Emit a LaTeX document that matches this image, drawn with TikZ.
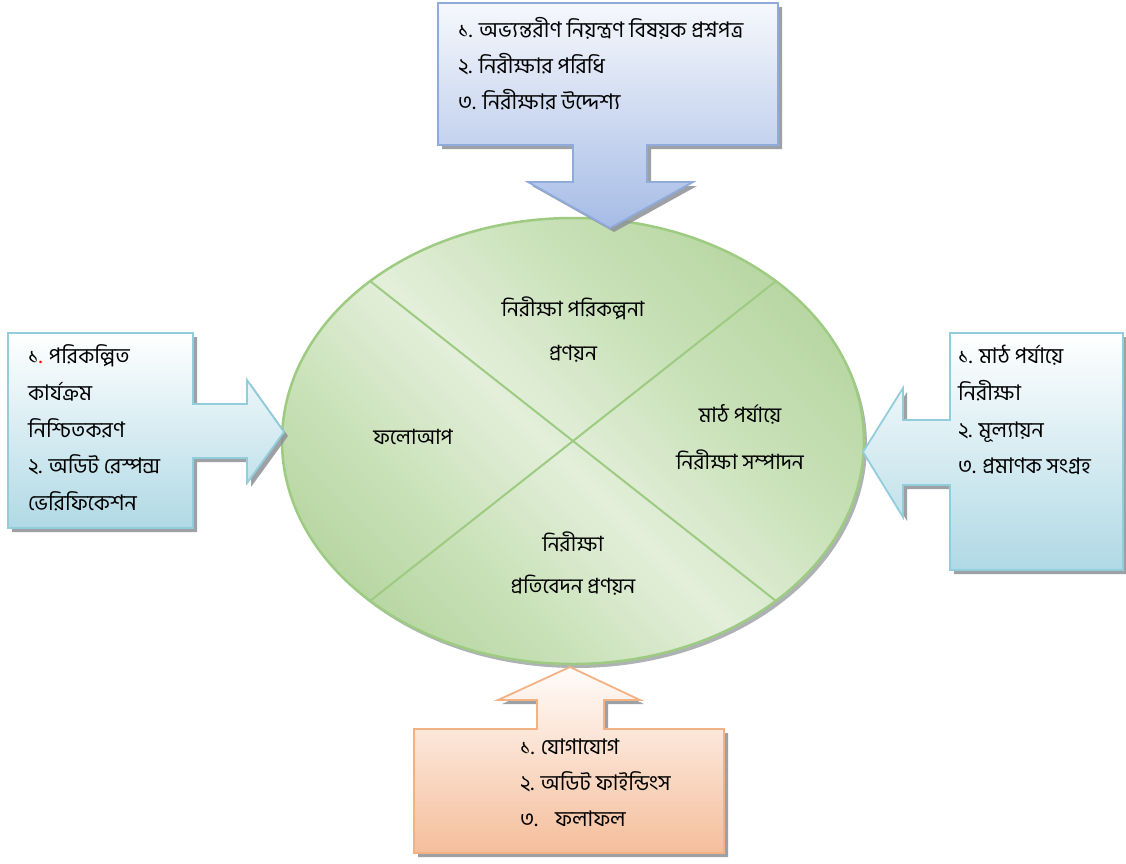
\documentclass[tikz,border=0pt]{standalone}
\usepackage{fontspec}
\newfontfamily\bn[Script=Bengali]{Hind Siliguri}
\usetikzlibrary{shadows,calc}
\definecolor{gE}{HTML}{B8D7A3}
\definecolor{gD}{HTML}{C9E1B8}
\definecolor{gL}{HTML}{E3EFDA}
\definecolor{gB}{HTML}{9ECB82}
\definecolor{bT}{HTML}{F6F8FC}
\definecolor{bB}{HTML}{A6BCE6}
\definecolor{bBr}{HTML}{8FAADC}
\definecolor{cT}{HTML}{FFFFFF}
\definecolor{cB}{HTML}{B0D9E5}
\definecolor{cBr}{HTML}{92CDDC}
\definecolor{pT}{HTML}{FFFCFA}
\definecolor{pB}{HTML}{F5BE9B}
\definecolor{pBr}{HTML}{F4B183}
\definecolor{shc}{HTML}{8C9196}
\pgfdeclarehorizontalshading{ellshade}{100bp}{color(0bp)=(gE); color(25bp)=(gE); color(35bp)=(gD); color(48bp)=(gL); color(62bp)=(gD); color(75bp)=(gE); color(100bp)=(gE)}
\begin{document}
\begin{tikzpicture}[x=1pt,y=-1pt,
  shd/.style={drop shadow={shadow xshift=4pt, shadow yshift=-4pt, fill=shc, opacity=0.85}},
  ellshd/.style={drop shadow={shadow xshift=3pt, shadow yshift=-4pt, fill=shc, opacity=0.7}},
  lbl/.style={font=\bn\fontsize{21.5}{36.5}\selectfont, inner sep=0pt, align=left, anchor=west, text=black},
  ctr/.style={font=\bn\fontsize{21}{44}\selectfont, inner sep=0pt, align=center, text=black},
  divline/.style={draw=gB, line width=2pt},
  topbox/.style={shd, top color=bT, bottom color=bB, draw=bBr, line width=1.8pt, line join=miter},
  sidebox/.style={shd, top color=cT, bottom color=cB, draw=cBr, line width=1.8pt, line join=miter},
  botbox/.style={shd, top color=pT, bottom color=pB, draw=pBr, line width=1.8pt, line join=miter}
]
\useasboundingbox (0,0) rectangle (1126,863);

% central ellipse
\coordinate (c) at (573,441);
\path[ellshd, shading=ellshade, shading angle=45] (c) ellipse [x radius=291pt, y radius=223pt];
\draw[gB, line width=2.5pt] (c) ellipse [x radius=291pt, y radius=223pt];
\coordinate (ul) at ($(c)+(134.2:291 and 223)$);
\coordinate (ur) at ($(c)+(45.8:291 and 223)$);
\coordinate (ll) at ($(c)+(225.8:291 and 223)$);
\coordinate (lr) at ($(c)+(314.2:291 and 223)$);
\draw[divline] (ul) -- (lr);
\draw[divline] (ur) -- (ll);

\node[ctr] (q1) at (573,330) {নিরীক্ষা পরিকল্পনা\\প্রণয়ন};
\node[ctr] (q2) at (413,437) {ফলোআপ};
\node[ctr, font=\bn\fontsize{21}{47}\selectfont] (q3) at (740,437) {মাঠ পর্যায়ে\\নিরীক্ষা সম্পাদন};
\node[ctr, font=\bn\fontsize{21}{42}\selectfont] (q4) at (573,564) {নিরীক্ষা\\প্রতিবেদন প্রণয়ন};

% top callout (down arrow)
\path[topbox] (438,3) -- (778,3) -- (778,145) -- (647,145) -- (647,182) -- (693,182) -- (610,228)
  -- (528,182) -- (573,182) -- (573,145) -- (438,145) -- cycle;
\node[lbl, font=\bn\fontsize{21.5}{36}\selectfont] (ttop) at (458,64) {১. অভ্যন্তরীণ নিয়ন্ত্রণ বিষয়ক প্রশ্নপত্র\\২. নিরীক্ষার পরিধি\\৩. নিরীক্ষার উদ্দেশ্য};

% left callout (right arrow)
\path[sidebox] (8,333) -- (193,333) -- (193,404) -- (247,404) -- (247,380) -- (284,432)
  -- (247,483) -- (247,458) -- (193,458) -- (193,528) -- (8,528) -- cycle;
\node[lbl, font=\bn\fontsize{21.5}{36.75}\selectfont] (tleft) at (28,428) {১{\color{red}.} পরিকল্পিত\\কার্যক্রম\\নিশ্চিতকরণ\\২. অডিট রেস্পন্স\\ভেরিফিকেশন};

% right callout (left arrow)
\path[sidebox] (950,333) -- (1123,333) -- (1123,570) -- (950,570) -- (950,485) -- (903,485)
  -- (903,517) -- (863,452) -- (903,388) -- (903,420) -- (950,420) -- cycle;
\node[lbl, font=\bn\fontsize{21.5}{36.7}\selectfont] (tright) at (958,410) {১. মাঠ পর্যায়ে\\নিরীক্ষা\\২. মূল্যায়ন\\৩. প্রমাণক সংগ্রহ};

% bottom callout (up arrow)
\path[botbox] (414,729) -- (537,729) -- (537,700) -- (498,700) -- (570,667) -- (640,700)
  -- (604,700) -- (604,729) -- (724,729) -- (724,853) -- (414,853) -- cycle;
\node[lbl, font=\bn\fontsize{21.5}{36}\selectfont] (tbot) at (520,783) {১. যোগাযোগ\\২. অডিট ফাইন্ডিংস\\৩.\hspace{0.8em}ফলাফল};
\end{tikzpicture}
\end{document}
